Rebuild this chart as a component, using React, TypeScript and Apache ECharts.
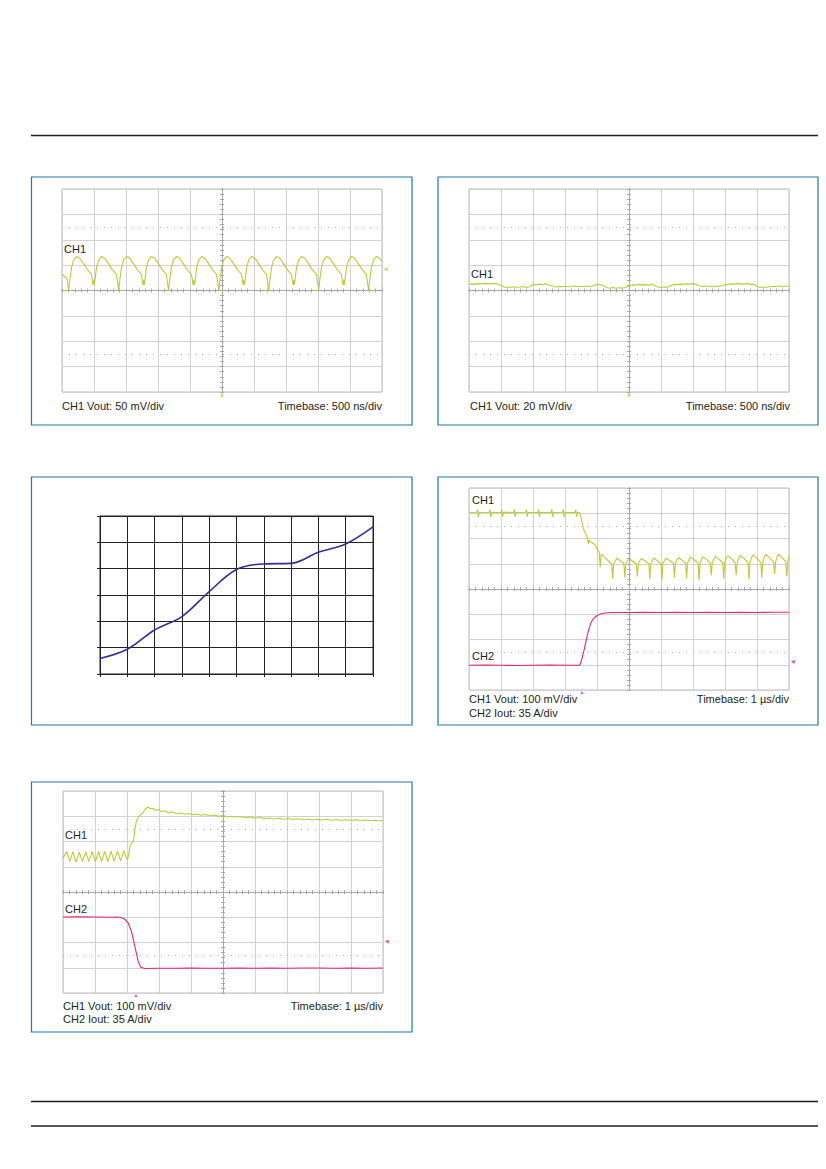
import React, { useEffect, useRef } from 'react';
import * as echarts from 'echarts';

// ---------- Data (x in divisions 0..10, y in divisions, 0 = screen centre) ----------
const P1_CH1: [number, number][] = [
  [0, 0.62], [0.1, 0.55], [0.16, 0.46], [0.21, 0.0], [0.25, 0.45], [0.3, 0.92], [0.37, 1.22], [0.46, 1.34], [0.55, 1.28], [0.65, 1.1], [0.74, 0.92], [0.83, 0.76], [0.92, 0.64],
  [0.94, 0.46], [0.97, 0.22], [0.99, 0.4], [1.01, 0.22], [1.04, 0.5], [1.08, 0.92], [1.15, 1.22], [1.24, 1.34], [1.33, 1.28], [1.43, 1.1], [1.52, 0.92], [1.61, 0.76], [1.7, 0.64],
  [1.72, 0.46], [1.77, 0.0], [1.81, 0.45], [1.86, 0.92], [1.93, 1.22], [2.02, 1.34], [2.11, 1.28], [2.21, 1.1], [2.3, 0.92], [2.39, 0.76], [2.48, 0.64],
  [2.5, 0.46], [2.53, 0.22], [2.55, 0.4], [2.57, 0.22], [2.6, 0.5], [2.64, 0.92], [2.71, 1.22], [2.8, 1.34], [2.89, 1.28], [2.99, 1.1], [3.08, 0.92], [3.17, 0.76], [3.26, 0.64],
  [3.28, 0.46], [3.33, 0.0], [3.37, 0.45], [3.42, 0.92], [3.49, 1.22], [3.58, 1.34], [3.67, 1.28], [3.77, 1.1], [3.86, 0.92], [3.95, 0.76], [4.04, 0.64],
  [4.07, 0.46], [4.1, 0.22], [4.12, 0.4], [4.14, 0.22], [4.17, 0.5], [4.21, 0.92], [4.28, 1.22], [4.37, 1.34], [4.46, 1.28], [4.56, 1.1], [4.65, 0.92], [4.74, 0.76], [4.83, 0.64],
  [4.85, 0.46], [4.9, 0.02], [4.94, 0.45], [4.99, 0.92], [5.06, 1.22], [5.15, 1.34], [5.24, 1.28], [5.34, 1.1], [5.43, 0.92], [5.52, 0.76], [5.61, 0.64],
  [5.63, 0.46], [5.66, 0.22], [5.68, 0.4], [5.7, 0.22], [5.73, 0.5], [5.77, 0.92], [5.84, 1.22], [5.93, 1.34], [6.02, 1.28], [6.12, 1.1], [6.21, 0.92], [6.3, 0.76], [6.39, 0.64],
  [6.41, 0.46], [6.46, 0.0], [6.5, 0.45], [6.55, 0.92], [6.62, 1.22], [6.71, 1.34], [6.8, 1.28], [6.9, 1.1], [6.99, 0.92], [7.08, 0.76], [7.17, 0.64],
  [7.19, 0.46], [7.22, 0.22], [7.24, 0.4], [7.26, 0.22], [7.29, 0.5], [7.33, 0.92], [7.4, 1.22], [7.49, 1.34], [7.58, 1.28], [7.68, 1.1], [7.77, 0.92], [7.86, 0.76], [7.95, 0.64],
  [7.97, 0.46], [8.02, 0.0], [8.06, 0.45], [8.11, 0.92], [8.18, 1.22], [8.27, 1.34], [8.36, 1.28], [8.46, 1.1], [8.55, 0.92], [8.64, 0.76], [8.73, 0.64],
  [8.75, 0.46], [8.78, 0.22], [8.8, 0.4], [8.82, 0.22], [8.85, 0.5], [8.89, 0.92], [8.96, 1.22], [9.05, 1.34], [9.14, 1.28], [9.24, 1.1], [9.33, 0.92], [9.42, 0.76], [9.51, 0.64],
  [9.53, 0.46], [9.58, 0.0], [9.62, 0.45], [9.67, 0.92], [9.74, 1.22], [9.83, 1.34], [9.92, 1.28], [10.0, 1.15],
];

// Panel 2 samples every 0.1 division
const P2_STEP = 0.1;
const P2_CH1: number[] = [
  0.24, 0.26, 0.25, 0.27, 0.26, 0.28, 0.26, 0.27, 0.28, 0.26,
  0.2, 0.13, 0.14, 0.12, 0.15, 0.13, 0.14, 0.16, 0.12, 0.15,
  0.24, 0.22, 0.25, 0.23, 0.27, 0.22, 0.19, 0.14, 0.16, 0.15,
  0.17, 0.15, 0.16, 0.18, 0.15, 0.17, 0.16, 0.18, 0.15, 0.19,
  0.24, 0.23, 0.2, 0.11, 0.1, 0.12, 0.09, 0.11, 0.1, 0.12,
  0.19, 0.22, 0.21, 0.24, 0.22, 0.23, 0.21, 0.24, 0.2, 0.14,
  0.12, 0.14, 0.13, 0.2, 0.24, 0.23, 0.25, 0.24, 0.26, 0.25,
  0.27, 0.25, 0.18, 0.16, 0.18, 0.17, 0.15, 0.18, 0.16, 0.19,
  0.22, 0.24, 0.26, 0.25, 0.27, 0.26, 0.25, 0.27, 0.24, 0.25,
  0.16, 0.12, 0.14, 0.13, 0.15, 0.17, 0.16, 0.18, 0.15, 0.17,
  0.18,
];

// Panel 3 (plain line chart)
const P3_X: number[] = [0, 1, 2, 3, 4, 5, 6, 7, 8, 9, 10];
const P3_Y: number[] = [0.59, 0.94, 1.67, 2.18, 3.13, 3.97, 4.18, 4.2, 4.62, 4.94, 5.59];

const P4_CH1: [number, number][] = [
  [0, 3.03], [0.24, 3.04], [0.27, 3.15], [0.29, 2.86], [0.32, 3.03],
  [0.63, 3.04], [0.66, 3.15], [0.68, 2.85], [0.71, 3.03],
  [1.0, 3.03], [1.03, 3.14], [1.05, 2.86], [1.08, 3.04],
  [1.39, 3.03], [1.42, 3.15], [1.44, 2.85], [1.47, 3.03],
  [1.77, 3.04], [1.8, 3.14], [1.82, 2.86], [1.85, 3.03],
  [2.15, 3.03], [2.18, 3.15], [2.2, 2.86], [2.23, 3.04],
  [2.56, 3.03], [2.59, 3.16], [2.61, 2.85], [2.64, 3.03],
  [2.92, 3.04], [2.95, 3.15], [2.97, 2.86], [3.0, 3.03],
  [3.31, 3.03], [3.34, 3.14], [3.36, 2.86], [3.39, 3.04],
  [3.45, 3.03], [3.5, 2.85], [3.55, 2.52], [3.6, 2.32], [3.66, 2.17], [3.71, 1.96], [3.73, 1.78], [3.75, 1.93], [3.83, 1.84], [3.92, 1.77], [4.0, 1.6], [4.07, 1.45], [4.1, 0.85], [4.13, 1.38], [4.24, 1.25], [4.36, 1.1], [4.46, 0.99],
  [4.49, 0.4], [4.52, 1.0], [4.57, 1.12], [4.62, 1.22], [4.73, 1.12], [4.84, 1.0],
  [4.87, 0.45], [4.9, 1.0], [4.95, 1.12], [5.0, 1.2], [5.11, 1.1], [5.23, 0.99],
  [5.26, 0.5], [5.29, 1.0], [5.34, 1.13], [5.39, 1.21], [5.5, 1.11], [5.62, 1.0],
  [5.65, 0.4], [5.68, 1.01], [5.73, 1.14], [5.78, 1.22], [5.89, 1.12], [6.0, 1.0],
  [6.03, 0.35], [6.06, 1.01], [6.11, 1.14], [6.16, 1.22], [6.27, 1.13], [6.39, 1.01],
  [6.42, 0.45], [6.45, 1.02], [6.5, 1.16], [6.55, 1.24], [6.66, 1.14], [6.77, 1.02],
  [6.8, 0.42], [6.83, 1.02], [6.88, 1.17], [6.93, 1.26], [7.04, 1.15], [7.16, 1.02],
  [7.19, 0.35], [7.22, 1.03], [7.27, 1.18], [7.32, 1.27], [7.43, 1.16], [7.54, 1.03],
  [7.57, 0.55], [7.6, 1.03], [7.65, 1.2], [7.7, 1.3], [7.81, 1.18], [7.93, 1.04],
  [7.96, 0.4], [7.99, 1.04], [8.04, 1.22], [8.09, 1.32], [8.2, 1.19], [8.32, 1.04],
  [8.35, 0.55], [8.38, 1.05], [8.43, 1.23], [8.48, 1.33], [8.6, 1.2], [8.72, 1.05],
  [8.75, 0.38], [8.78, 1.05], [8.83, 1.25], [8.88, 1.35], [9.0, 1.21], [9.12, 1.05],
  [9.15, 0.45], [9.18, 1.06], [9.23, 1.27], [9.28, 1.37], [9.4, 1.22], [9.52, 1.06],
  [9.55, 0.6], [9.58, 1.06], [9.63, 1.28], [9.68, 1.38], [9.8, 1.22], [9.9, 1.08],
  [9.93, 0.5], [9.96, 1.06], [10.0, 1.3],
];

const P4_CH2: [number, number][] = [
  [0, -3.02], [0.5, -3.01], [1.0, -3.02], [1.5, -3.03], [2.0, -3.02], [2.5, -3.01], [3.0, -3.02], [3.46, -3.02],
  [3.5, -2.9], [3.55, -2.65], [3.6, -2.4], [3.65, -2.1], [3.7, -1.82], [3.75, -1.58], [3.8, -1.38], [3.86, -1.22], [3.93, -1.12], [4.02, -1.04], [4.12, -0.99], [4.25, -0.95], [4.45, -0.93],
  [5.0, -0.93], [5.5, -0.92], [6.0, -0.93], [6.5, -0.92], [7.0, -0.93], [7.5, -0.92], [8.0, -0.93], [8.5, -0.92], [9.0, -0.93], [9.5, -0.92], [10.0, -0.92],
];

const P5_CH1: [number, number][] = [
  [0.0, 1.35], [0.12, 1.6], [0.21, 1.2], [0.31, 1.6], [0.41, 1.18], [0.51, 1.58], [0.61, 1.2], [0.71, 1.6], [0.81, 1.2], [0.91, 1.6], [1.01, 1.19], [1.11, 1.6],
  [1.21, 1.2], [1.3, 1.61], [1.4, 1.2], [1.5, 1.62], [1.6, 1.21], [1.7, 1.63], [1.8, 1.23], [1.9, 1.64], [2.0, 1.27],
  [2.04, 1.4], [2.08, 1.7], [2.11, 1.87], [2.16, 1.95], [2.2, 2.0], [2.24, 2.4], [2.29, 2.79], [2.35, 2.95], [2.41, 3.06], [2.48, 3.1], [2.54, 3.22], [2.6, 3.32], [2.66, 3.36],
  [2.72, 3.3], [2.8, 3.32], [2.9, 3.24], [2.98, 3.26], [3.08, 3.18], [3.18, 3.22], [3.3, 3.14], [3.42, 3.17], [3.55, 3.1], [3.68, 3.13], [3.8, 3.08], [3.92, 3.11],
  [4.06, 3.06], [4.18, 3.09], [4.32, 3.04], [4.45, 3.07], [4.58, 3.02], [4.72, 3.05], [4.86, 3.0], [5.0, 3.03], [5.12, 2.98], [5.25, 3.0], [5.4, 2.97], [5.55, 2.99],
  [5.7, 2.94], [5.85, 2.97], [6.0, 2.92], [6.15, 2.95], [6.3, 2.9], [6.45, 2.93], [6.6, 2.89], [6.75, 2.92], [6.9, 2.88], [7.05, 2.91], [7.2, 2.87], [7.35, 2.9],
  [7.5, 2.86], [7.65, 2.89], [7.8, 2.85], [7.95, 2.88], [8.1, 2.85], [8.25, 2.88], [8.4, 2.84], [8.55, 2.87], [8.7, 2.83], [8.85, 2.86], [9.0, 2.83], [9.15, 2.86],
  [9.3, 2.82], [9.45, 2.85], [9.6, 2.82], [9.75, 2.84], [9.9, 2.81], [10.0, 2.84],
];

const P5_CH2: [number, number][] = [
  [0, -0.99], [0.5, -0.98], [1.0, -0.99], [1.5, -1.0], [1.7, -0.99], [1.8, -1.01], [1.88, -1.04], [1.95, -1.1], [2.04, -1.23], [2.14, -1.56], [2.21, -1.96],
  [2.28, -2.35], [2.35, -2.75], [2.43, -2.98], [2.56, -3.03], [3.0, -3.02], [3.5, -3.02], [4.0, -3.01], [4.5, -3.02], [5.0, -3.02], [5.5, -3.01], [6.0, -3.02],
  [6.5, -3.01], [7.0, -3.02], [7.5, -3.01], [8.0, -3.01], [8.5, -3.02], [9.0, -3.01], [9.5, -3.02], [10.0, -3.01],
];

// trigger / level markers: [x div, y div]
const P1_MARK_RIGHT: [number, number] = [10.12, 0.84];
const P1_MARK_BOTTOM: [number, number] = [5, -4.1];
const P2_MARK_BOTTOM: [number, number] = [5, -4.1];
const P4_MARK_RIGHT: [number, number] = [10.12, -2.88];
const P4_MARK_BOTTOM: [number, number] = [3.53, -4.1];
const P5_MARK_RIGHT: [number, number] = [10.12, -1.96];
const P5_MARK_BOTTOM: [number, number] = [2.28, -4.1];

// ---------- Styling ----------
const CH1_COLOR = '#bccb36';
const CH2_COLOR = '#e2237f';
const NAVY = '#2e3192';
const GRID_C = '#d2d2d2';
const BORDER_C = '#bdbdbd';
const CENTER_C = '#a9a9a9';
const BOX_C = '#1f78a8';
const TEXT_C = '#231f20';
const FONT = '11px "Liberation Sans", Arial, Helvetica, sans-serif';

const shift = (pts: [number, number][]) => pts.map(([x, y]) => [x - 5, y]);

function buildOption() {
  const grids: any[] = [
    { left: 62, top: 189, width: 320, height: 203 },
    { left: 469, top: 189, width: 320, height: 203 },
    { left: 100, top: 516, width: 273, height: 158 },
    { left: 469, top: 488, width: 320, height: 202 },
    { left: 63, top: 791, width: 320, height: 202 },
  ].map((g, i) => ({
    ...g,
    show: true,
    borderColor: i === 2 ? '#222' : BORDER_C,
    borderWidth: 1,
    backgroundColor: 'transparent',
    containLabel: false,
  }));

  const xAxes: any[] = [];
  const yAxes: any[] = [];
  const series: any[] = [];

  const tickStyle = { color: CENTER_C, width: 1 };

  function addScope(g: number) {
    const xi = xAxes.length;
    const yi = yAxes.length;
    const common = { gridIndex: g, type: 'value', axisLabel: { show: false } };
    xAxes.push({
      ...common, min: -5, max: 5, interval: 1, position: 'bottom',
      axisLine: { show: true, onZero: true, lineStyle: tickStyle },
      axisTick: { show: true, length: 2, lineStyle: tickStyle },
      minorTick: { show: true, splitNumber: 5, length: 2, lineStyle: tickStyle },
      splitLine: { show: true, lineStyle: { color: GRID_C, width: 1 } },
    });
    xAxes.push({
      ...common, min: -5, max: 5, interval: 1, position: 'top',
      axisLine: { show: true, onZero: true, lineStyle: tickStyle },
      axisTick: { show: true, length: 2, lineStyle: tickStyle },
      minorTick: { show: true, splitNumber: 5, length: 2, lineStyle: tickStyle },
      splitLine: { show: false },
    });
    yAxes.push({
      ...common, min: -4, max: 4, interval: 1, position: 'left',
      axisLine: { show: true, onZero: true, lineStyle: tickStyle },
      axisTick: { show: true, length: 2, lineStyle: tickStyle },
      minorTick: { show: true, splitNumber: 5, length: 2, lineStyle: tickStyle },
      splitLine: { show: true, lineStyle: { color: GRID_C, width: 1 } },
    });
    yAxes.push({
      ...common, min: -4, max: 4, interval: 1, position: 'right',
      axisLine: { show: true, onZero: true, lineStyle: tickStyle },
      axisTick: { show: true, length: 2, lineStyle: tickStyle },
      minorTick: { show: true, splitNumber: 5, length: 2, lineStyle: tickStyle },
      splitLine: { show: false },
    });
    // dotted guide lines at +/- 2.5 div
    series.push({
      type: 'line', xAxisIndex: xi, yAxisIndex: yi, data: [], silent: true,
      markLine: {
        silent: true, symbol: ['none', 'none'], label: { show: false },
        lineStyle: { type: [1, 6], color: '#b0b0b0', width: 1 },
        data: [{ yAxis: 2.5 }, { yAxis: -2.5 }],
      },
    });
    return { xi, yi };
  }

  function trace(ax: { xi: number; yi: number }, data: any[], color: string) {
    series.push({
      type: 'line', xAxisIndex: ax.xi, yAxisIndex: ax.yi, data,
      showSymbol: false, symbol: 'none', silent: true,
      lineStyle: { color, width: 1.1 }, z: 5,
    });
  }

  function marker(ax: { xi: number; yi: number }, pt: [number, number], color: string, rotate: number, size: number) {
    series.push({
      type: 'scatter', xAxisIndex: ax.xi, yAxisIndex: ax.yi, data: [[pt[0] - 5, pt[1]]],
      symbol: 'triangle', symbolSize: size, symbolRotate: rotate, clip: false, silent: true,
      itemStyle: { color }, z: 6,
    });
  }

  // Panel 1
  const a1 = addScope(0);
  trace(a1, shift(P1_CH1), CH1_COLOR);
  marker(a1, P1_MARK_RIGHT, CH1_COLOR, 90, 4);
  marker(a1, P1_MARK_BOTTOM, CH1_COLOR, 0, 4);

  // Panel 2
  const a2 = addScope(1);
  trace(a2, P2_CH1.map((v, i) => [i * P2_STEP - 5, v]), CH1_COLOR);
  marker(a2, P2_MARK_BOTTOM, CH1_COLOR, 0, 4);

  // Panel 3
  const x3 = xAxes.length;
  const y3 = yAxes.length;
  const black = { color: '#222', width: 1 };
  xAxes.push({
    gridIndex: 2, type: 'value', min: 0, max: 10, interval: 1, position: 'bottom',
    axisLine: { show: true, onZero: false, lineStyle: black },
    axisTick: { show: true, length: 3, inside: false, lineStyle: black },
    axisLabel: { show: false },
    splitLine: { show: true, lineStyle: black },
  });
  yAxes.push({
    gridIndex: 2, type: 'value', min: 0, max: 6, interval: 1, position: 'left',
    axisLine: { show: true, onZero: false, lineStyle: black },
    axisTick: { show: true, length: 3, inside: false, lineStyle: black },
    axisLabel: { show: false },
    splitLine: { show: true, lineStyle: black },
  });
  series.push({
    type: 'line', xAxisIndex: x3, yAxisIndex: y3,
    data: P3_X.map((x, i) => [x, P3_Y[i]]),
    smooth: 0.35, showSymbol: false, symbol: 'none', silent: true,
    lineStyle: { color: NAVY, width: 1.6 }, z: 5,
  });

  // Panel 4
  const a4 = addScope(3);
  trace(a4, shift(P4_CH1), CH1_COLOR);
  trace(a4, shift(P4_CH2), CH2_COLOR);
  marker(a4, P4_MARK_RIGHT, CH2_COLOR, 90, 4);
  marker(a4, P4_MARK_BOTTOM, CH2_COLOR, 0, 3);

  // Panel 5
  const a5 = addScope(4);
  trace(a5, shift(P5_CH1), CH1_COLOR);
  trace(a5, shift(P5_CH2), CH2_COLOR);
  marker(a5, P5_MARK_RIGHT, CH2_COLOR, 90, 4);
  marker(a5, P5_MARK_BOTTOM, CH2_COLOR, 0, 3);

  const txt = (text: string, x: number, y: number, align: string = 'left') => ({
    type: 'text', x, y, silent: true, z: 10,
    style: { text, fill: TEXT_C, font: FONT, align, verticalAlign: 'middle' },
  });
  const box = (x: number, y: number, w: number, h: number) => ({
    type: 'rect', silent: true, z: 1,
    shape: { x, y, width: w, height: h },
    style: { fill: 'none', stroke: BOX_C, lineWidth: 1.2 },
  });
  const rule = (y: number) => ({
    type: 'line', silent: true,
    shape: { x1: 31, y1: y, x2: 818, y2: y },
    style: { stroke: TEXT_C, lineWidth: 1.3 },
  });

  const graphic: any[] = [
    rule(135.5), rule(1101.5), rule(1126),
    box(31.5, 177, 380.5, 248),
    box(438, 177, 380, 248),
    box(31.5, 477, 380.5, 248),
    box(438, 477, 380, 248),
    box(31.5, 782, 380.5, 250),
    // panel 1
    txt('CH1', 64, 248.5),
    txt('CH1 Vout: 50 mV/div', 62, 406),
    txt('Timebase: 500 ns/div', 382, 406, 'right'),
    // panel 2
    txt('CH1', 471, 273.5),
    txt('CH1 Vout: 20 mV/div', 470, 406),
    txt('Timebase: 500 ns/div', 790, 406, 'right'),
    // panel 4
    txt('CH1', 472, 500),
    txt('CH2', 472, 656),
    txt('CH1 Vout: 100 mV/div', 469, 699),
    txt('CH2 Iout: 35 A/div', 469, 713),
    txt('Timebase: 1 µs/div', 789, 699, 'right'),
    // panel 5
    txt('CH1', 65, 835),
    txt('CH2', 65, 909),
    txt('CH1 Vout: 100 mV/div', 63, 1006),
    txt('CH2 Iout: 35 A/div', 63, 1019),
    txt('Timebase: 1 µs/div', 383, 1006, 'right'),
  ];

  return {
    animation: false,
    backgroundColor: '#ffffff',
    grid: grids,
    xAxis: xAxes,
    yAxis: yAxes,
    series,
    graphic,
  };
}

export default function App() {
  const ref = useRef<HTMLDivElement>(null);
  useEffect(() => {
    if (!ref.current) return;
    const chart = echarts.init(ref.current, null, { renderer: 'svg', width: 826, height: 1169 });
    chart.setOption(buildOption() as any);
    return () => chart.dispose();
  }, []);
  return (
    <div
      ref={ref}
      style={{ position: 'absolute', left: 0, top: 0, width: 826, height: 1169, background: '#fff' }}
    />
  );
}
